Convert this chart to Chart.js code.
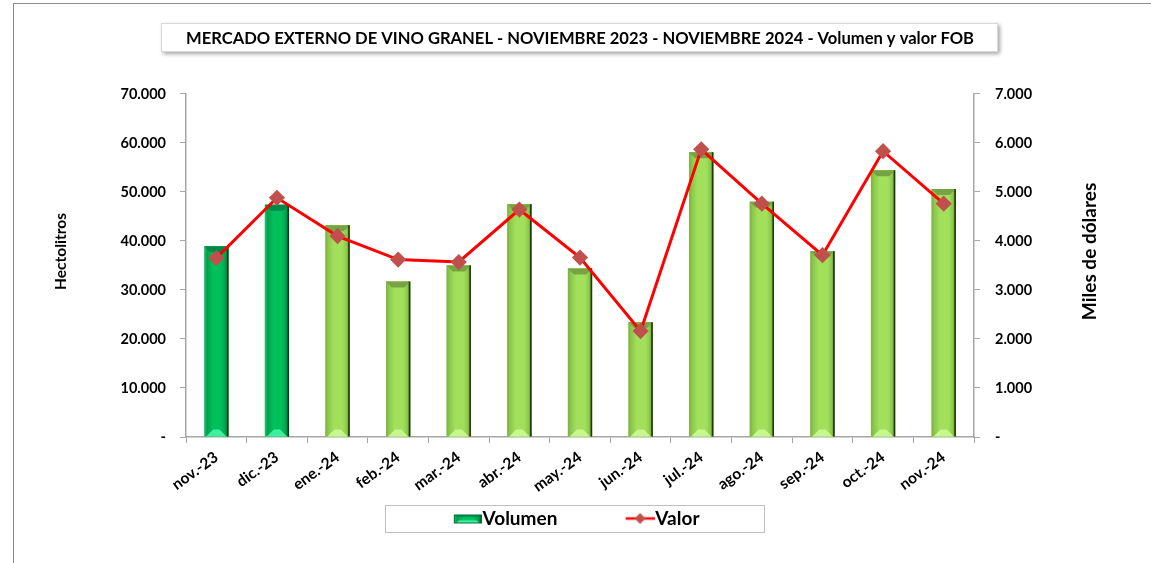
<!DOCTYPE html>
<html>
<head>
<meta charset="utf-8">
<script src="https://cdn.jsdelivr.net/npm/chart.js@4.4.1/dist/chart.umd.min.js"></script>
<style>
  html, body { margin: 0; padding: 0; background: #fff; }
</style>
</head>
<body>
<canvas id="grafico" width="1151" height="563"></canvas>
<script>
const meses = ["nov.-23", "dic.-23", "ene.-24", "feb.-24", "mar.-24", "abr.-24", "may.-24",
  "jun.-24", "jul.-24", "ago.-24", "sep.-24", "oct.-24", "nov.-24"];
// hectolitros
const volumen = [38900, 47400, 43200, 31700, 35000, 47500, 34400, 23400, 58100, 48000, 37900, 54400, 50600];
// miles de dolares FOB
const valor = [3650, 4880, 4100, 3620, 3570, 4640, 3660, 2160, 5870, 4760, 3710, 5830, 4760];

const maxHl = 70000, pasoHl = 10000;
const maxUsd = 7000, pasoUsd = 1000;

const FUENTE = "Lato, 'Noto Sans', sans-serif";
const ANCHO_ICONO = 78.5; // pointStyleWidth de la leyenda

function formato(v) {
  if (v === 0) return "-";
  return String(v).replace(/\B(?=(\d{3})+(?!\d))/g, ".");
}

const verdeOscuro = { borde: "#2cc47a", medio: "#00a04c", luz: "#00c05c", sombra: "#006a30",
  tapa: "#00884a", pie: "#40f0a0", linea: "#003d1a" };
const verdeClaro = { borde: "#7cb045", medio: "#8cc84a", luz: "#a2e05c", sombra: "#4d7d24",
  tapa: "#76a444", pie: "#c8f790", linea: "#1f3a0a" };

function pintarBarra(ctx, x0, x1, top, base, p) {
  const w = x1 - x0;
  const g = ctx.createLinearGradient(x0, 0, x1, 0);
  g.addColorStop(0, p.borde);
  g.addColorStop(0.12, p.medio);
  g.addColorStop(0.35, p.luz);
  g.addColorStop(0.7, p.luz);
  g.addColorStop(0.88, p.medio);
  g.addColorStop(1, p.sombra);
  ctx.fillStyle = g;
  ctx.fillRect(x0, top, w, base - top);
  const b = Math.min(6, (base - top) / 4);
  ctx.fillStyle = p.tapa;
  ctx.beginPath();
  ctx.moveTo(x0, top); ctx.lineTo(x1, top);
  ctx.lineTo(x1 - b, top + b); ctx.lineTo(x0 + b, top + b);
  ctx.closePath(); ctx.fill();
  ctx.fillStyle = p.pie;
  ctx.beginPath();
  ctx.moveTo(x0 + 2, base); ctx.lineTo(x0 + b + 3, base - b - 1);
  ctx.lineTo(x1 - b - 3, base - b - 1); ctx.lineTo(x1 - 2, base);
  ctx.closePath(); ctx.fill();
  ctx.fillStyle = p.linea;
  ctx.fillRect(x1 - 1.5, top, 1.5, base - top);
}

// iconos de la leyenda (dibujo pegado al borde derecho, junto al texto)
const iconoVolumen = document.createElement("canvas");
iconoVolumen.width = 96; iconoVolumen.height = 20;
(function () {
  const c = iconoVolumen.getContext("2d");
  pintarBarra(c, 68, 96, 6, 15, verdeOscuro);
  c.strokeStyle = "#00703a"; c.lineWidth = 1;
  c.strokeRect(68.5, 6.5, 27, 8);
})();

const iconoValor = document.createElement("canvas");
iconoValor.width = 96; iconoValor.height = 20;
(function () {
  const c = iconoValor.getContext("2d");
  c.strokeStyle = "#ff0000"; c.lineWidth = 2.5;
  c.beginPath(); c.moveTo(67, 10); c.lineTo(96, 10); c.stroke();
  c.fillStyle = "#c0504d";
  c.beginPath(); c.moveTo(81.5, 4.5); c.lineTo(87, 10); c.lineTo(81.5, 15.5); c.lineTo(76, 10); c.closePath(); c.fill();
})();

function textoVertical(ctx, txt, x, y, size) {
  ctx.save();
  ctx.fillStyle = "#000";
  ctx.font = "bold " + size + "px " + FUENTE;
  ctx.textAlign = "center";
  ctx.textBaseline = "middle";
  ctx.translate(x, y);
  ctx.rotate(-Math.PI / 2);
  ctx.fillText(txt, 0, 0);
  ctx.restore();
}

const decorado = {
  id: "decorado",
  beforeDraw(chart) {
    const ctx = chart.ctx;
    ctx.save();
    ctx.fillStyle = "#fff";
    ctx.fillRect(0, 0, chart.width, chart.height);
    ctx.strokeStyle = "#8c8c8c";
    ctx.lineWidth = 1;
    ctx.strokeRect(13.5, 3.5, chart.width + 20, chart.height + 20);
    // caja del titulo con sombra
    const tb = chart.titleBlock;
    const t = chart.options.plugins.title;
    ctx.font = "bold " + t.font.size + "px " + FUENTE;
    const w = Math.round(ctx.measureText(t.text).width + 10);
    const cx = Math.round((tb.left + tb.right) / 2);
    const x = cx - Math.round(w / 2);
    ctx.shadowColor = "rgba(0,0,0,0.35)";
    ctx.shadowBlur = 4;
    ctx.shadowOffsetX = 2;
    ctx.shadowOffsetY = 2;
    ctx.fillStyle = "#fff";
    ctx.fillRect(x, tb.top, w, 29);
    ctx.shadowColor = "transparent";
    ctx.strokeStyle = "#d9d9d9";
    ctx.strokeRect(x + 0.5, tb.top + 0.5, w - 1, 28);
    ctx.restore();
  },
  afterDatasetDraw(chart, args) {
    if (args.index !== 0) return;
    const ctx = chart.ctx;
    ctx.save();
    args.meta.data.forEach((el, i) => {
      const p = i < 2 ? verdeOscuro : verdeClaro;
      pintarBarra(ctx, el.x - el.width / 2, el.x + el.width / 2, el.y, el.base, p);
    });
    ctx.restore();
  },
  afterDraw(chart) {
    const ctx = chart.ctx;
    ctx.save();
    // marco de la leyenda
    const hb = chart.legend.legendHitBoxes;
    const izq = hb[0].left + ANCHO_ICONO - 19.5;
    const der = hb[hb.length - 1].left + hb[hb.length - 1].width;
    const cx = (izq + der) / 2 - 3;
    const cy = hb[0].top + hb[0].height / 2;
    ctx.strokeStyle = "#bfbfbf";
    ctx.lineWidth = 1;
    ctx.strokeRect(Math.round(cx - 189) + 0.5, Math.round(cy - 14) + 0.5, 379, 27);
    ctx.restore();
    // titulos de los ejes
    const a = chart.chartArea;
    const yMedio = (a.top + a.bottom) / 2 - 14;
    textoVertical(ctx, "Hectolitros", chart.scales.y.left + 8, yMedio, 15.5);
    textoVertical(ctx, "Miles de dólares", chart.scales.y1.left + 116, yMedio, 19);
  }
};

const ejeGris = "#a6a6a6";

new Chart(document.getElementById("grafico"), {
  data: {
    labels: meses,
    datasets: [
      {
        type: "bar",
        label: "Volumen",
        data: volumen,
        yAxisID: "y",
        backgroundColor: "#92d050",
        barPercentage: 0.4,
        categoryPercentage: 1.0,
        order: 2
      },
      {
        type: "line",
        label: "Valor",
        data: valor,
        yAxisID: "y1",
        borderColor: "#ff0000",
        borderWidth: 3,
        pointStyle: "rectRot",
        pointRadius: 6,
        pointBackgroundColor: "#c0504d",
        pointBorderColor: "#c0504d",
        tension: 0,
        order: 1
      }
    ]
  },
  options: {
    responsive: false,
    animation: false,
    devicePixelRatio: 1,
    layout: { padding: { top: 23, left: 53, right: 110, bottom: 25 } },
    plugins: {
      title: {
        display: true,
        fullSize: false,
        text: "MERCADO EXTERNO DE VINO GRANEL - NOVIEMBRE 2023 - NOVIEMBRE 2024 - Volumen y valor FOB",
        color: "#000",
        font: { family: FUENTE, size: 17.4, weight: "bold", lineHeight: 1.2 },
        padding: { top: 5, bottom: 45 }
      },
      legend: {
        position: "bottom",
        labels: {
          usePointStyle: true,
          pointStyleWidth: ANCHO_ICONO,
          boxHeight: 14,
          padding: 10,
          color: "#000",
          font: { family: FUENTE, size: 19, weight: "bold" },
          sort: (a, b) => a.datasetIndex - b.datasetIndex,
          generateLabels(chart) {
            const items = Chart.defaults.plugins.legend.labels.generateLabels(chart);
            items.forEach(it => {
              it.pointStyle = it.datasetIndex === 0 ? iconoVolumen : iconoValor;
            });
            return items;
          }
        }
      },
      tooltip: { enabled: false }
    },
    scales: {
      x: {
        grid: { drawOnChartArea: false, color: ejeGris, tickLength: 6, offset: true },
        border: { color: ejeGris, width: 1.5 },
        ticks: {
          color: "#000",
          font: { family: FUENTE, size: 15.5, weight: "bold" },
          minRotation: 36,
          maxRotation: 36,
          autoSkip: false,
          padding: 5
        },
        afterFit(s) { s.height = 62; }
      },
      y: {
        position: "left",
        min: 0,
        max: maxHl,
        grid: { drawOnChartArea: false, color: ejeGris, tickLength: 6 },
        border: { color: ejeGris, width: 1.5 },
        ticks: {
          stepSize: pasoHl,
          color: "#000",
          font: { family: FUENTE, size: 14.5, weight: "bold" },
          padding: 14,
          callback: v => formato(v)
        },
        afterFit(s) { s.width = 133; }
      },
      y1: {
        position: "right",
        min: 0,
        max: maxUsd,
        grid: { drawOnChartArea: false, color: ejeGris, tickLength: 6 },
        border: { color: ejeGris, width: 1.5 },
        ticks: {
          stepSize: pasoUsd,
          color: "#000",
          font: { family: FUENTE, size: 14.5, weight: "bold" },
          padding: 15,
          callback: v => formato(v)
        },
        afterFit(s) { s.width = 67; }
      }
    }
  },
  plugins: [decorado]
});
</script>
</body>
</html>
